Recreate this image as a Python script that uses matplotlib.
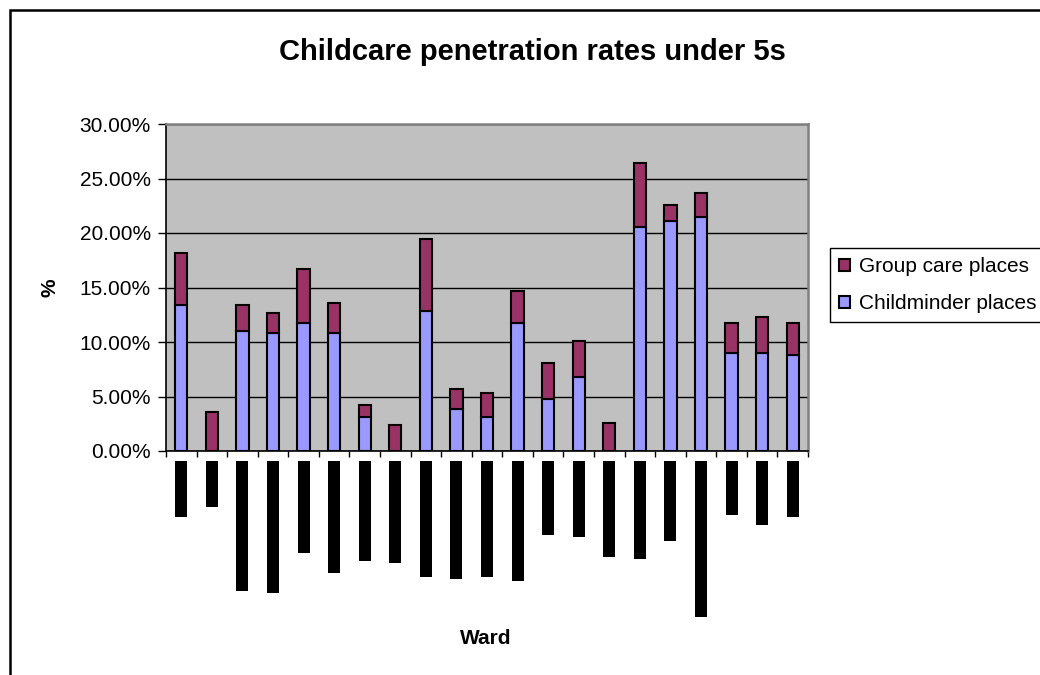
import matplotlib
matplotlib.use("Agg")
import matplotlib.pyplot as plt
import numpy as np
from matplotlib.patches import Rectangle

plt.rcParams['font.family'] = ['Liberation Sans', 'DejaVu Sans']

# ---- data ----
wards = [f"Ward {i+1}" for i in range(21)]  # names are obscured in the reference
childminder = [13.4, 0.0, 11.0, 10.8, 11.7, 10.8, 3.1, 0.0, 12.85, 3.85, 3.15,
               11.75, 4.75, 6.8, 0.0, 20.55, 21.1, 21.45, 9.0, 9.0, 8.8]
total = [18.15, 3.6, 13.4, 12.7, 16.7, 13.55, 4.2, 2.35, 19.45, 5.65, 5.3,
         14.65, 8.05, 10.1, 2.55, 26.45, 22.55, 23.7, 11.75, 12.3, 11.75]
group_care = [round(t - c, 2) for t, c in zip(total, childminder)]
# lengths (pixels) of the obscured (blacked-out) ward name labels
label_lengths = [56, 46, 130, 132, 92, 112, 100, 102, 116, 118, 116, 120,
                 74, 76, 96, 98, 80, 156, 54, 64, 56]
yticks = [0, 5, 10, 15, 20, 25, 30]
ytick_labels = ["0.00%", "5.00%", "10.00%", "15.00%", "20.00%", "25.00%", "30.00%"]

W, H = 1040, 675
fig = plt.figure(figsize=(W / 100, H / 100), dpi=100)
fig.patch.set_facecolor('white')

# outer chart border (extends past right/bottom edge)
fig.patches.append(Rectangle((10 / W, -0.05), 1.1, 1 - 10 / H + 0.05,
                             transform=fig.transFigure, fill=False,
                             edgecolor='black', linewidth=1.8))

L, R, T, B = 166, 808, 124, 451
ax = fig.add_axes([L / W, 1 - B / H, (R - L) / W, (B - T) / H])
ax.set_facecolor('#C0C0C0')
x = np.arange(len(wards))
ax.bar(x, childminder, width=0.4, color='#9999FF', edgecolor='black',
       linewidth=1.5, label='Childminder places', zorder=3)
ax.bar(x, group_care, bottom=childminder, width=0.4, color='#993366',
       edgecolor='black', linewidth=1.5, label='Group care places', zorder=3)

ax.set_xlim(-0.5, len(wards) - 0.5)
ax.set_ylim(0, 30)
ax.set_yticks(yticks)
ax.set_yticklabels(ytick_labels, fontsize=15)
ax.set_xticks(np.arange(-0.5, len(wards), 1))
ax.set_xticklabels([])
ax.tick_params(axis='y', direction='out', length=6, width=1, pad=5)
ax.tick_params(axis='x', direction='out', length=4, width=1)
ax.yaxis.grid(True, color='black', linewidth=1, zorder=1)
ax.set_axisbelow(True)
for s in ['left', 'bottom']:
    ax.spines[s].set_color('black')
    ax.spines[s].set_linewidth(1.2)
for s in ['top', 'right']:
    ax.spines[s].set_color('#808080')
    ax.spines[s].set_linewidth(1.8)

# obscured category labels drawn as black blocks below the axis
lab = fig.add_axes([L / W, 1 - 640 / H, (R - L) / W, (640 - B) / H])
lab.set_xlim(-0.5, len(wards) - 0.5)
lab.set_ylim(640 - B, 0)
lab.bar(x, label_lengths, bottom=9.7, width=0.39, color='black')
lab.axis('off')

# title and axis labels
fig.text(532 / W, 1 - 52 / H, "Childcare penetration rates under 5s",
         ha='center', va='center', fontsize=21, fontweight='bold')
fig.text(50 / W, 1 - 288 / H, "%", rotation=90, ha='center', va='center',
         fontsize=15, fontweight='bold')
fig.text(486 / W, 1 - 638 / H, "Ward", ha='center', va='center',
         fontsize=15, fontweight='bold')

# legend
handles, labels = ax.get_legend_handles_labels()
leg = fig.legend(handles[::-1], labels[::-1], loc='upper left',
                 bbox_to_anchor=(830 / W, 1 - 248 / H), borderaxespad=0,
                 fontsize=15, handlelength=0.5, handleheight=0.5,
                 handletextpad=0.45, labelspacing=0.85, borderpad=0.45,
                 fancybox=False, edgecolor='black', framealpha=1)
leg.get_frame().set_linewidth(1.0)

fig.savefig("out.png", dpi=100, facecolor='white')
